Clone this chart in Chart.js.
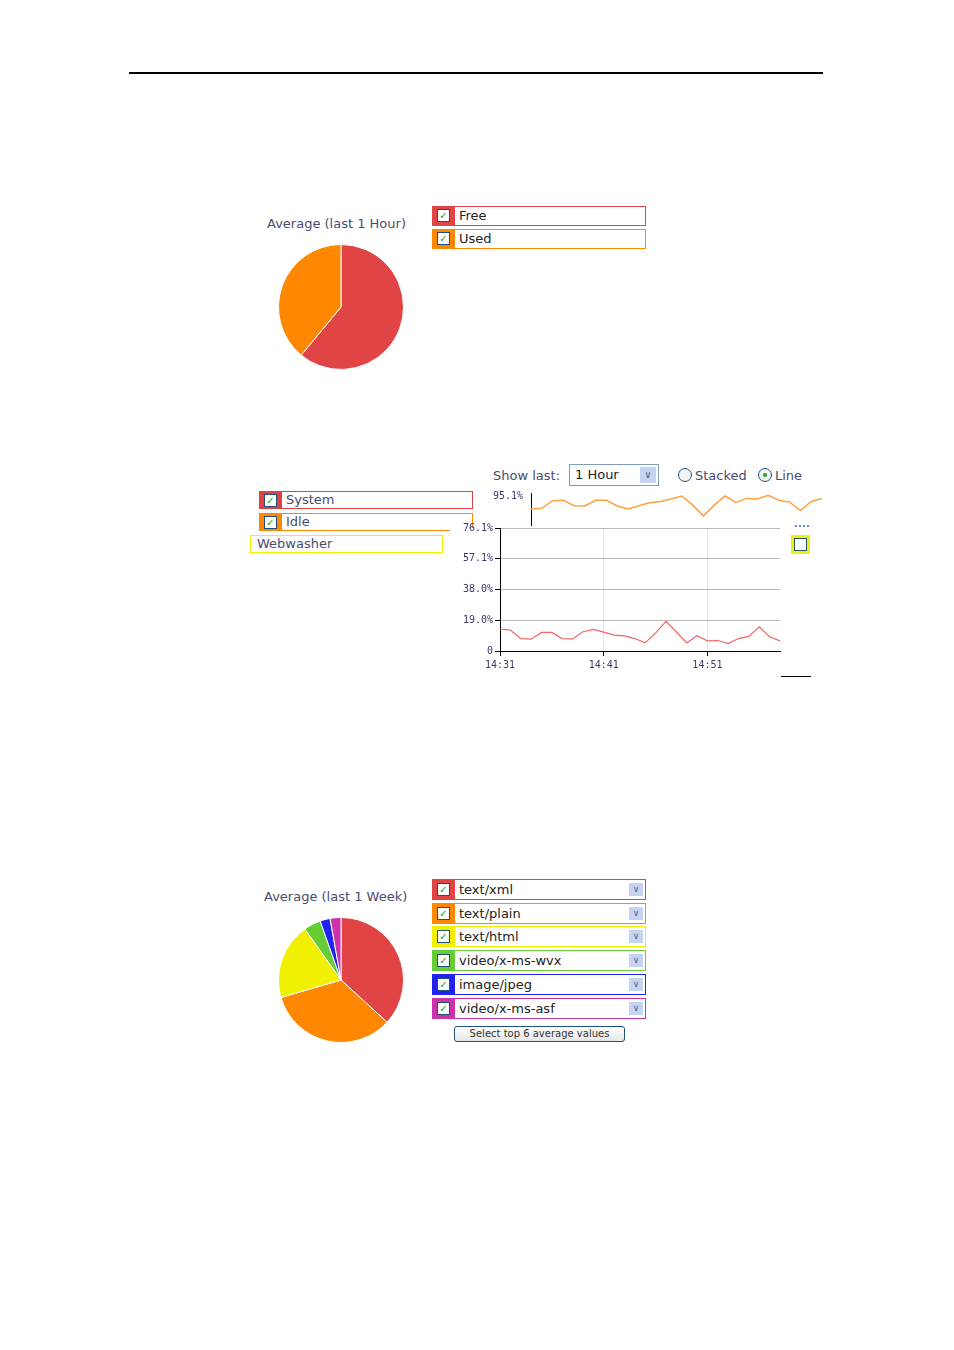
<!DOCTYPE html>
<html><head><meta charset="utf-8">
<script src="https://cdn.jsdelivr.net/npm/chart.js@4"></script>
<style>
body{margin:0;width:954px;height:1350px;background:#fff;position:relative;font-family:"DejaVu Sans",Verdana,sans-serif;color:#4b4b6e;overflow:hidden}
.a{position:absolute}
.t{font-size:13px;white-space:nowrap}
.lg{position:absolute;height:18px;box-sizing:border-box;border:1px solid;background:#fff;font-size:13px;color:#222;line-height:16px}
.lg .sw{position:absolute;left:0;top:0;bottom:0;width:22px}
.lg .cb{position:absolute;left:4px;top:2px;width:11px;height:11px;border:1px solid #1c5180;background:#fff;color:#21a121;font-size:10px;line-height:11px;text-align:center;font-weight:bold}
.lg .tx{position:absolute;left:26px;top:0}
.lg .dd{position:absolute;right:2px;top:2px;width:14px;height:13px;background:#c4d4f2;color:#4d6185;font-size:9px;line-height:13px;text-align:center}
canvas{position:absolute}
</style></head><body>
<div class="a" style="left:129px;top:72px;width:694px;height:2px;background:#000"></div>

<div class="a t" style="left:267px;top:216px">Average (last 1 Hour)</div>
<canvas id="p1" class="a" style="left:270px;top:236px" width="142" height="142"></canvas>
<div id="leg1"></div>

<div class="a t" style="left:493px;top:468px">Show last:</div>
<div class="a" style="left:569px;top:464px;width:90px;height:22px;box-sizing:border-box;border:1px solid #7f9db9;font-size:13px;color:#222;line-height:20px;padding-left:5px">1 Hour<div style="position:absolute;right:2px;top:2px;width:16px;height:16px;background:#c4d4f2;color:#4d6185;font-size:10px;text-align:center;line-height:16px">&#8744;</div></div>
<div class="a" style="left:678px;top:468px;width:12px;height:12px;border:1px solid #1c5180;border-radius:50%;background:#f4f4f4"></div>
<div class="a t" style="left:695px;top:468px">Stacked</div>
<div class="a" style="left:758px;top:468px;width:12px;height:12px;border:1px solid #1c5180;border-radius:50%;background:#f4f4f4"><div style="margin:4px;width:4px;height:4px;border-radius:50%;background:#21a121"></div></div>
<div class="a t" style="left:775px;top:468px">Line</div>

<div class="lg" style="left:259px;top:491px;width:214px;border-color:#e04040"><div class="sw" style="background:#e04040"><div class="cb">&#10003;</div></div><div class="tx" style="color:#4b4b6e">System</div></div>
<div class="lg" style="left:259px;top:513px;width:214px;border-color:#ff8800"><div class="sw" style="background:#ff8800"><div class="cb">&#10003;</div></div><div class="tx" style="color:#4b4b6e">Idle</div></div>

<canvas id="top" width="335" height="50" style="left:487px;top:484px"></canvas>
<canvas id="main" width="340" height="160" style="left:450px;top:520px"></canvas>
<div class="lg" style="left:250px;top:535px;width:193px;border-color:#f0f000"><div class="tx" style="left:6px;color:#4b4b6e">Webwasher</div></div>
<div class="a" style="left:795px;top:525px;width:14px;border-top:2px dotted #5b8fd0"></div>
<div class="a" style="left:791px;top:535px;width:19px;height:19px;background:#f0f000"><div style="margin:3px;width:11px;height:11px;border:1px solid #1c5180;background:#fff"></div></div>
<div class="a" style="left:781px;top:676px;width:30px;height:1px;background:#000"></div>

<div class="a t" style="left:264px;top:889px">Average (last 1 Week)</div>
<canvas id="p2" class="a" style="left:270px;top:909px" width="142" height="142"></canvas>
<div id="leg2"></div>
<div class="a" style="left:454px;top:1026px;width:171px;height:16px;box-sizing:border-box;border:1px solid #1c5180;border-radius:3px;background:linear-gradient(#fff,#e6e6e6);font-size:10px;line-height:14px;text-align:center;color:#333">Select top 6 average values</div>

<script>
const pie1Labels=["Free","Used"];
const pie1Values=[61,39];
const pie1Colors=["#e04444","#ff8800"];
const pie2Labels=["text/xml","text/plain","text/html","video/x-ms-wvx","image/jpeg","video/x-ms-asf"];
const pie2Values=[36.8,33.7,19.7,4.4,2.6,2.8];
const pie2Colors=["#e04444","#ff8800","#f0f000","#66cc33","#2222ee","#cc33aa"];
const timeLabels=["14:31","14:32","14:33","14:34","14:35","14:36","14:37","14:38","14:39","14:40","14:41","14:42","14:43","14:44","14:45","14:46","14:47","14:48","14:49","14:50","14:51","14:52","14:53","14:54","14:55","14:56","14:57","14:58"];
const systemValues=[13.6,12.9,7.7,7.3,11.5,11.5,7.7,7.5,11.9,13.4,11.7,9.8,9.4,7.7,5.0,11.1,18.4,11.9,5.0,9.4,6.3,6.5,4.6,7.7,9.0,15.0,8.8,6.3];
const idleValues=[86.9,87.3,92.4,92.6,89.0,88.8,92.6,92.6,88.8,86.9,89.0,91.0,91.8,93.5,95.5,89.4,82.2,89.4,95.5,91.2,93.9,93.5,95.9,92.6,91.4,85.7,91.8,93.9];
const yTicks=[0,19.0,38.0,57.1,76.1];

function legend(id,labels,colors,top,step,dd){
  let h='';
  labels.forEach((l,i)=>{
    h+=`<div class="lg" style="left:432px;top:${top+i*step}px;width:214px;height:${dd?21:20}px;border-color:${colors[i]}"><div class="sw" style="background:${colors[i]}"><div class="cb" style="top:${dd?3:2}px">&#10003;</div></div><div class="tx" style="line-height:${dd?19:18}px">${l}</div>${dd?'<div class="dd" style="top:3px">&#8744;</div>':''}</div>`;
  });
  document.getElementById(id).innerHTML=h;
}
legend('leg1',pie1Labels,pie1Colors,206,23,false);
legend('leg2',pie2Labels,pie2Colors,879,23.7,true);

Chart.defaults.animation=false;
function pie(id,vals,cols){
  new Chart(document.getElementById(id),{type:'pie',data:{datasets:[{data:vals,backgroundColor:cols,borderColor:'#ffffff',borderWidth:1}]},
  options:{responsive:false,layout:{padding:8},plugins:{legend:{display:false},tooltip:{enabled:false}}}});
}
pie('p1',pie1Values,pie1Colors);
pie('p2',pie2Values,pie2Colors);

const tickFont={family:'DejaVu Sans Mono, monospace',size:10};
new Chart(document.getElementById('top'),{type:'line',
 data:{labels:timeLabels,datasets:[{data:idleValues,borderColor:'#ffa040',borderWidth:1.5,pointRadius:0,tension:0}]},
 options:{responsive:false,layout:{padding:{top:8,right:0,bottom:0}},plugins:{legend:{display:false},tooltip:{enabled:false}},
  scales:{x:{display:false,offset:false},
   y:{min:76.1,max:97.5,afterFit(s){s.width=44},afterBuildTicks(s){s.ticks=[{value:95.1}]},
      ticks:{color:'#3a3a6a',font:tickFont,callback:v=>v.toFixed(1)+'%'},grid:{display:false,drawTicks:true,tickLength:5,color:'#000'},border:{color:'#000'}}}}});

const whiteBg={id:'bg',beforeDraw(c){const x=c.ctx;x.save();x.fillStyle='#fff';x.fillRect(c.chartArea.left-50,c.chartArea.top,c.width,c.height);x.restore();}};
new Chart(document.getElementById('main'),{type:'line',
 data:{labels:timeLabels,datasets:[{data:systemValues,borderColor:'#ee6666',borderWidth:1.2,pointRadius:0,tension:0}]},
 options:{responsive:false,layout:{padding:{top:8,right:10,bottom:0,left:0}},plugins:{legend:{display:false},tooltip:{enabled:false}},
  scales:{
   x:{offset:false,afterFit(s){s.height=29},
      ticks:{autoSkip:false,maxRotation:0,color:'#3a3a6a',font:tickFont,callback:(v,i)=>i%10===0?timeLabels[i]:''},
      grid:{color:(c)=>c.index%10===0&&c.index>0?'#e4e4e4':'rgba(0,0,0,0)',tickColor:(c)=>c.index%10===0?'#000':'rgba(0,0,0,0)',tickLength:5},border:{color:'#000'}},
   y:{min:0,max:76.1,afterFit(s){s.width=50},afterBuildTicks(s){s.ticks=yTicks.map(v=>({value:v}))},
      ticks:{color:'#3a3a6a',font:tickFont,padding:2,callback:v=>v===0?'0':v.toFixed(1)+'%'},
      grid:{color:'#b8b8b8',tickColor:'#000',tickLength:5},border:{color:'#000'}}}},
 plugins:[whiteBg]});
</script>
</body></html>
